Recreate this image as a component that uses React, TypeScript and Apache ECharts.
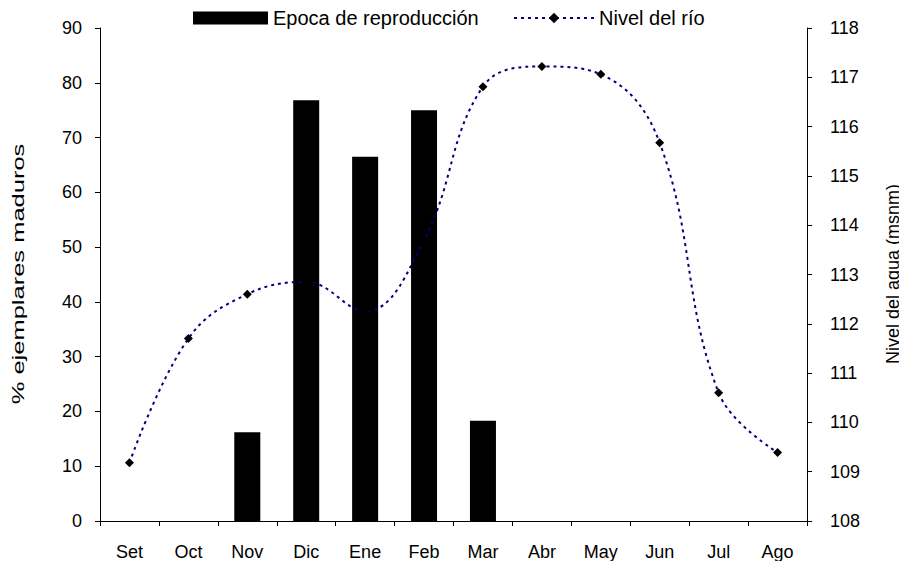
import React, { useEffect, useRef } from "react";
import * as echarts from "echarts";

const months = ["Set", "Oct", "Nov", "Dic", "Ene", "Feb", "Mar", "Abr", "May", "Jun", "Jul", "Ago"];
const reproduccion = [null, null, 16.2, 76.8, 66.5, 75.0, 18.3, null, null, null, null, null];
const nivelRio = [109.18, 111.7, 112.6, 112.85, 112.25, 113.7, 116.81, 117.22, 117.06, 115.67, 110.6, 109.39];
const leftTitle = "% ejemplares maduros";
const rightTitle = "Nivel del agua (msnm)";

const FONT = "Liberation Sans, Arial, sans-serif";

export default function App() {
  const ref = useRef<HTMLDivElement>(null);
  useEffect(() => {
    if (!ref.current) return;
    const chart = echarts.init(ref.current, undefined, { renderer: "svg" });
    const text = { fontFamily: FONT, fontSize: 18, color: "#000" };
    const legendText = { fontFamily: FONT, fontSize: 20, color: "#000" };
    chart.setOption({
      animation: false,
      backgroundColor: "#fff",
      textStyle: text,
      legend: [
        {
          data: [{ name: "Epoca de reproducción", icon: "rect" }],
          left: 185,
          top: 0,
          itemWidth: 75,
          itemHeight: 13,
          textStyle: legendText,
          padding: 0,
        },
        {
          data: ["Nivel del río"],
          left: 505,
          top: 0,
          itemWidth: 80,
          itemHeight: 13,
          textStyle: legendText,
          padding: 0,
        },
      ],
      grid: { left: 92, right: 100, top: 20, bottom: 40, containLabel: false },
      xAxis: {
        type: "category",
        data: months,
        axisLine: { show: true, lineStyle: { color: "#000", width: 1 } },
        axisTick: { show: true, alignWithLabel: false, length: 5, lineStyle: { color: "#000" } },
        axisLabel: { ...text, margin: 22 },
      },
      yAxis: [
        {
          type: "value",
          min: 0,
          max: 90,
          interval: 10,
          axisLine: { show: true, lineStyle: { color: "#000", width: 1 } },
          axisTick: { show: true, length: 5, lineStyle: { color: "#000" } },
          axisLabel: { ...text, margin: 18 },
          splitLine: { show: false },
        },
        {
          type: "value",
          min: 108,
          max: 118,
          interval: 1,
          position: "right",
          axisLine: { show: true, lineStyle: { color: "#000", width: 1 } },
          axisTick: { show: true, length: 5, lineStyle: { color: "#000" } },
          axisLabel: { ...text, margin: 23 },
          splitLine: { show: false },
        },
      ],
      graphic: [
        {
          type: "text",
          x: 10.5,
          y: 266,
          rotation: Math.PI / 2,
          scaleX: 1.5,
          style: {
            text: leftTitle,
            fontFamily: FONT,
            fontSize: 17,
            fill: "#000",
            align: "center",
            verticalAlign: "middle",
          },
        },
        {
          type: "text",
          x: 885,
          y: 266,
          rotation: Math.PI / 2,
          style: {
            text: rightTitle,
            fontFamily: FONT,
            fontSize: 18,
            fill: "#000",
            align: "center",
            verticalAlign: "middle",
          },
        },
      ],
      series: [
        {
          name: "Epoca de reproducción",
          type: "bar",
          data: reproduccion,
          barWidth: 26,
          itemStyle: { color: "#000" },
          yAxisIndex: 0,
          z: 2,
        },
        {
          name: "Nivel del río",
          type: "line",
          data: nivelRio,
          yAxisIndex: 1,
          smooth: 0.4,
          symbol: "diamond",
          symbolSize: 9,
          itemStyle: { color: "#000" },
          lineStyle: { color: "#000080", width: 2, type: [3, 4] },
          z: 3,
        },
      ],
    });
    return () => chart.dispose();
  }, []);
  return <div ref={ref} style={{ width: 899, height: 553 }} />;
}
